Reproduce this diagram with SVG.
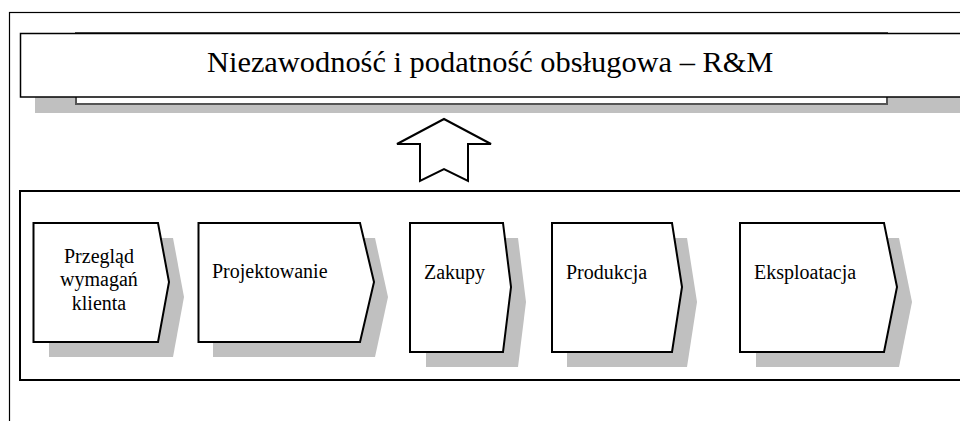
<svg xmlns="http://www.w3.org/2000/svg" width="960" height="421" viewBox="0 0 960 421">
<style>
.frame{fill:none;stroke:#000;stroke-width:1.2}
.shadow{fill:#c0c0c0;stroke:none}
.box{fill:#fff;stroke:#000;stroke-width:2;stroke-linejoin:miter}
.lbl{font-family:"Liberation Serif","Times New Roman",serif;font-size:20px;fill:#000}
.title{font-family:"Liberation Serif","Times New Roman",serif;font-size:30.4px;fill:#000}
</style>
<rect width="960" height="421" fill="#fff"/>
<rect class="frame" x="9.5" y="12.5" width="1000" height="500"/>
<g id="title">
<rect class="shadow" x="35" y="50" width="1000" height="63"/>
<rect x="76" y="33" width="811" height="71" fill="#fff" stroke="#555" stroke-width="2"/>
<rect x="20.5" y="33.5" width="1000" height="63.5" fill="#fff" stroke="#000" stroke-width="1.5"/>
<text class="title" x="207" y="72">Niezawodność i podatność obsługowa – R&amp;M</text>
</g>
<g id="connectors">
<polygon points="444,119 397,144 420,144 420,181 444,169 468,181 468,144 491,144" fill="#fff" stroke="#000" stroke-width="2" stroke-linejoin="miter"/>
</g>
<g id="process">
<rect x="20" y="191" width="1000" height="189" fill="#fff" stroke="#000" stroke-width="2"/>
</g>
<g id="n1">
<polygon class="shadow" points="49,238 173,238 184,297 173,357 49,357"/>
<polygon class="box" points="33.5,223 158,223 169,282 158,342 33.5,342"/>
<text class="lbl" text-anchor="middle" x="99" y="263">Przegląd</text>
<text class="lbl" text-anchor="middle" x="99" y="286">wymagań</text>
<text class="lbl" text-anchor="middle" x="99" y="310">klienta</text>
</g>
<g id="n2">
<polygon class="shadow" points="213,238 375,238 388,297 375,357 213,357"/>
<polygon class="box" points="198.5,223 360,223 374,282 360,342 198.5,342"/>
<text class="lbl" x="212" y="278">Projektowanie</text>
</g>
<g id="n3">
<polygon class="shadow" points="426,238 518,238 526,302 518,367 426,367"/>
<polygon class="box" points="410,223 503,223 511,287 503,352 410,352"/>
<text class="lbl" x="424" y="279">Zakupy</text>
</g>
<g id="n4">
<polygon class="shadow" points="567,238 687,238 697,302 687,367 567,367"/>
<polygon class="box" points="552,223 672,223 682,287 672,352 552,352"/>
<text class="lbl" x="566" y="279">Produkcja</text>
</g>
<g id="n5">
<polygon class="shadow" points="756,238 899,238 912,302 899,367 756,367"/>
<polygon class="box" points="740,223 884,223 897,287 884,352 740,352"/>
<text class="lbl" x="754" y="279">Eksploatacja</text>
</g>
</svg>
